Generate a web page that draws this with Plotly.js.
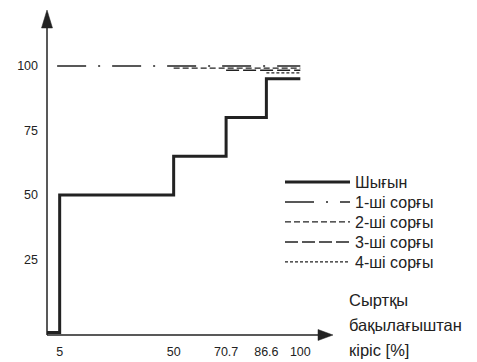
<!DOCTYPE html>
<html>
<head>
<meta charset="utf-8">
<script src="https://cdn.plot.ly/plotly-3.0.1.min.js"></script>
<style>html,body{margin:0;padding:0;background:#fff}#chart{width:477px;height:362px}</style>
</head>
<body>
<div id="chart"></div>
<script>
// Data
const stepX = [0, 5, 50, 70.7, 86.6, 100];
const stepY = [-3.3, 50, 65, 80, 95, 95];
const pump1X = [4, 100];
const pump1Y = [100, 100];
const pump2X = [50, 100];
const pump2Y = [99.2, 99.2];
const pump3X = [70.7, 100];
const pump3Y = [98.3, 98.3];
const pump4X = [86.6, 100];
const pump4Y = [97.3, 97.3];
const seriesNames = ['Шығын', '1-ші сорғы', '2-ші сорғы', '3-ші сорғы', '4-ші сорғы'];
const xTicks = [5, 50, 70.7, 86.6, 100];
const xTickText = ['5', '50', '70.7', '86.6', '100'];
const yTicks = [25, 50, 75, 100];
const yTickText = ['25', '50', '75', '100'];

const ink = '#222222';
const font = 'Liberation Sans, Arial, sans-serif';

const legendIds = ['legend', 'legend2', 'legend3', 'legend4', 'legend5'];

const traces = [
  {x: stepX, y: stepY, name: seriesNames[0], legend: legendIds[0], mode: 'lines', line: {shape: 'hv', color: ink, width: 3}},
  {x: pump1X, y: pump1Y, name: seriesNames[1], legend: legendIds[1], mode: 'lines', line: {color: ink, width: 1.5, dash: '29px,12px,2px,12px'}},
  {x: pump2X, y: pump2Y, name: seriesNames[2], legend: legendIds[2], mode: 'lines', line: {color: ink, width: 1.2, dash: '6px,3px'}},
  {x: pump3X, y: pump3Y, name: seriesNames[3], legend: legendIds[3], mode: 'lines', line: {color: ink, width: 1.5, dash: '13px,4px'}},
  {x: pump4X, y: pump4Y, name: seriesNames[4], legend: legendIds[4], mode: 'lines', line: {color: ink, width: 1.2, dash: '3px,2px'}}
];

const W = 477, H = 362, L = 47, R = 144, T = 10, B = 27;
const PW = W - L - R, PH = H - T - B;
const px = v => (v - L) / PW;
const py = v => (H - B - v) / PH;

const layout = {
  width: W, height: H,
  margin: {l: L, r: R, t: T, b: B, pad: 0},
  paper_bgcolor: '#fff', plot_bgcolor: '#fff',
  font: {family: font, color: ink},
  showlegend: true,
  xaxis: {
    range: [0, 112.9], showgrid: false, zeroline: false, showline: false,
    tickvals: xTicks, ticktext: xTickText, ticks: '', ticklabelstandoff: 7,
    tickfont: {size: 12.5, family: font, color: ink}, fixedrange: true
  },
  yaxis: {
    range: [-4.3, 121.7], showgrid: false, zeroline: false, showline: false,
    tickvals: yTicks, ticktext: yTickText, ticks: '', ticklabelstandoff: 8,
    tickfont: {size: 12.5, family: font, color: ink}, fixedrange: true
  },
  shapes: [
    {type: 'line', xref: 'paper', yref: 'paper', x0: 0, x1: 0.96, y0: 0, y1: 0, line: {color: ink, width: 1.5}},
    {type: 'path', xref: 'paper', yref: 'paper', path: 'M 0.9476 0.0169 L 1 0 L 0.9476 -0.0169 Z', fillcolor: ink, line: {color: ink, width: 0.5}},
    {type: 'line', xref: 'paper', yref: 'paper', x0: 0, x1: 0, y0: 0, y1: 0.95, line: {color: ink, width: 1.5}},
    {type: 'path', xref: 'paper', yref: 'paper', path: 'M -0.0192 0.9446 L 0 1 L 0.0192 0.9446 Z', fillcolor: ink, line: {color: ink, width: 0.5}}
  ],
  annotations: [
    {xref: 'paper', yref: 'paper', x: px(347), y: py(300), xanchor: 'left', yanchor: 'middle', text: 'Сыртқы', showarrow: false, font: {size: 16.5, family: font, color: ink}},
    {xref: 'paper', yref: 'paper', x: px(347), y: py(325), xanchor: 'left', yanchor: 'middle', text: 'бақылағыштан', showarrow: false, font: {size: 16.5, family: font, color: ink}},
    {xref: 'paper', yref: 'paper', x: px(347), y: py(350), xanchor: 'left', yanchor: 'middle', text: 'кіріс [%]', showarrow: false, font: {size: 16.5, family: font, color: ink}},
    {xref: 'paper', yref: 'paper', x: px(96), y: py(-1), xanchor: 'center', yanchor: 'bottom', text: '[ % ]', showarrow: false, font: {size: 16.5, family: font, color: ink}}
  ]
};

const rowY = [182, 202, 222, 242, 262];
legendIds.forEach((id, i) => {
  layout[id] = {
    x: px(280), y: py(rowY[i]), xanchor: 'left', yanchor: 'middle',
    font: {size: 16, family: font, color: ink},
    itemwidth: 65, bgcolor: 'rgba(0,0,0,0)', borderwidth: 0
  };
});

Plotly.newPlot('chart', traces, layout, {staticPlot: true, displayModeBar: false});
</script>
</body>
</html>
